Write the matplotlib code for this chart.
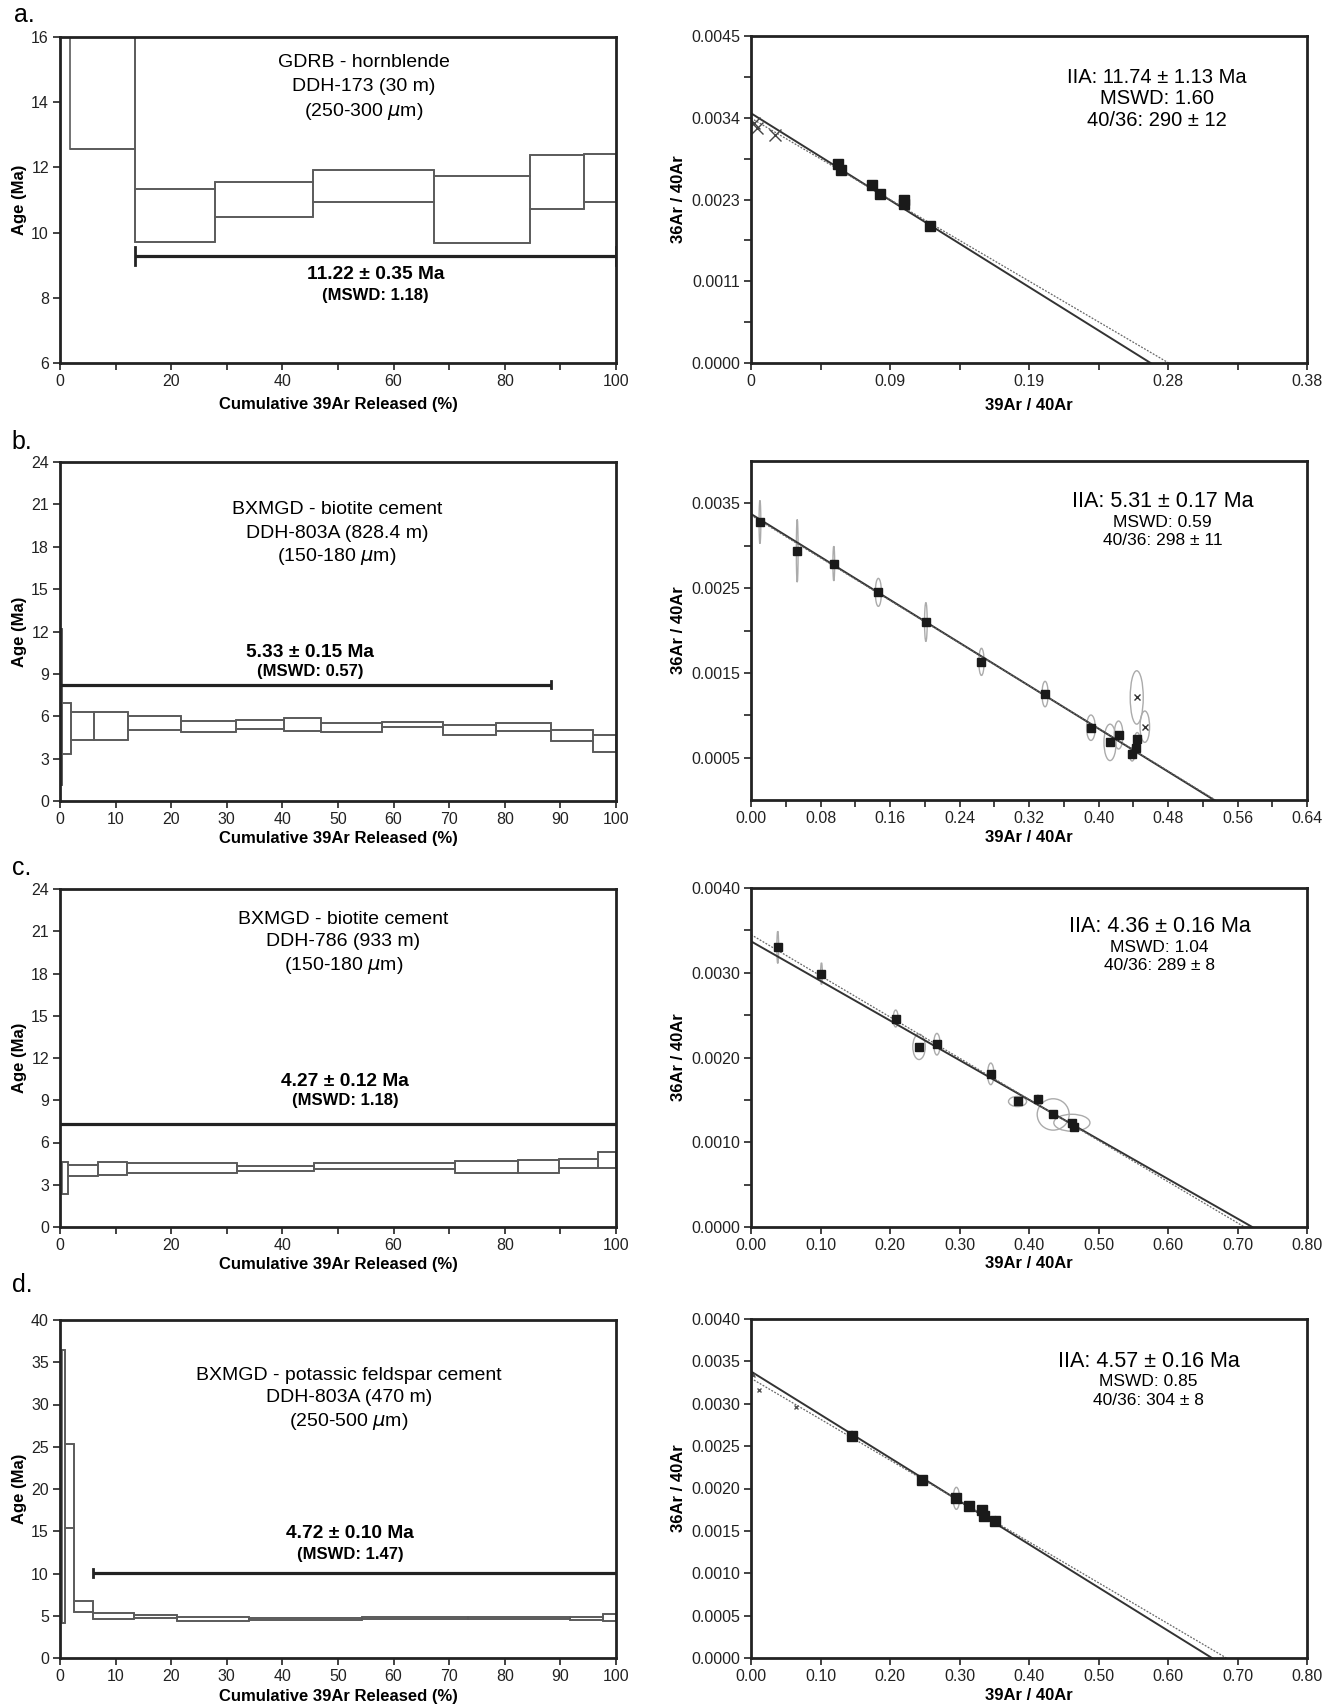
import numpy as np
import matplotlib
matplotlib.use("Agg")
import matplotlib.pyplot as plt
from matplotlib.patches import Ellipse

plt.rcParams['font.family'] = ['Liberation Sans', 'DejaVu Sans']

W, H = 1338, 1707

# ---------------- step-heating spectra: cumulative 39Ar (%) and age band (Ma) ----------------
a_bounds = [1.8, 13.45, 27.8, 45.5, 67.2, 84.6, 94.3, 100]
a_lo = [12.55, 9.72, 10.47, 10.95, 9.68, 10.72, 10.95]
a_hi = [17.0, 11.35, 11.55, 11.92, 11.73, 12.37, 12.42]
a_plateau = [13.45, 100, 9.28]

b_bounds = [0.0, 0.4, 2.05, 6.1, 12.2, 21.7, 31.6, 40.3, 46.9, 58.0, 68.9, 78.5, 88.3, 95.9, 100]
b_lo = [1.15, 3.35, 4.33, 4.33, 5.0, 4.92, 5.1, 4.97, 4.85, 5.22, 4.66, 4.96, 4.26, 3.47]
b_hi = [12.2, 6.96, 6.28, 6.28, 6.0, 5.64, 5.71, 5.9, 5.55, 5.62, 5.36, 5.53, 5.01, 4.68]
b_plateau = [0, 88.3, 8.22]

c_bounds = [0.4, 1.5, 6.8, 12.1, 31.8, 45.6, 71.1, 82.3, 89.7, 96.8, 100]
c_lo = [2.35, 3.6, 3.7, 3.8, 3.97, 4.11, 3.83, 3.83, 4.16, 4.16]
c_hi = [4.63, 4.4, 4.61, 4.52, 4.33, 4.52, 4.68, 4.78, 4.85, 5.34]
c_plateau = [0, 100, 7.32]

d_bounds = [0.35, 0.9, 2.5, 5.9, 13.3, 21.0, 34.0, 54.3, 73.4, 91.7, 97.6, 100]
d_lo = [4.2, 15.4, 5.45, 4.66, 4.74, 4.43, 4.5, 4.6, 4.65, 4.5, 4.35]
d_hi = [36.4, 25.3, 6.8, 5.34, 5.14, 4.8, 4.7, 4.8, 4.85, 4.9, 5.26]
d_plateau = [5.9, 100, 10.04]

# ---------------- isochrons: 39Ar/40Ar vs 36Ar/40Ar ----------------
ia_x = [0.0597, 0.0617, 0.0827, 0.0885, 0.1048, 0.1048, 0.1222]
ia_y = [0.00274, 0.00265, 0.00245, 0.00233, 0.00224, 0.00219, 0.00189]
ia_out_x = [0.0023, 0.0044, 0.0166]
ia_out_y = [0.0033, 0.00324, 0.00314]
ia_fit = [0.003437, 0.2731]      # y-intercept, x-intercept
ia_fit2 = [0.00337, 0.2855]

ib_x = [0.0103, 0.0532, 0.0953, 0.1466, 0.2013, 0.2653, 0.3385, 0.3913, 0.4133, 0.4231, 0.4446, 0.4426, 0.4387]
ib_y = [0.00328, 0.00294, 0.00279, 0.00245, 0.00210, 0.00163, 0.00125, 0.000853, 0.00068, 0.000767,
        0.000716, 0.00061, 0.00054]
ib_ew = [0.002, 0.002, 0.002, 0.007, 0.003, 0.006, 0.007, 0.010, 0.014, 0.010, 0.006, 0.006, 0.006]
ib_eh = [0.00051, 0.00074, 0.00041, 0.00033, 0.00046, 0.00032, 0.0003, 0.0003, 0.00043, 0.00033,
         0.00016, 0.00016, 0.00016]
ib_out_x = [0.444, 0.4533]
ib_out_y = [0.00121, 0.000865]
ib_out_ew = [0.015, 0.011]
ib_out_eh = [0.00063, 0.00037]
ib_fit = [0.003375, 0.533]
ib_fit2 = [0.00336, 0.5345]

ic_x = [0.0385, 0.1014, 0.2082, 0.2418, 0.2675, 0.345, 0.3835, 0.4128, 0.4348, 0.4617, 0.4641]
ic_y = [0.0033, 0.00299, 0.00246, 0.002126, 0.002157, 0.001807, 0.001481, 0.001505, 0.001328, 0.00123, 0.001183]
ic_ew = [0.0025, 0.0025, 0.007, 0.018, 0.009, 0.009, 0.026, 0.006, 0.046, 0.052, 0.01]
ic_eh = [0.00038, 0.000255, 0.0002, 0.0003, 0.000255, 0.000255, 0.00012, 0.0001, 0.00037, 0.0002, 0.0001]
ic_fit = [0.003371, 0.7212]
ic_fit2 = [0.00345, 0.710]

id_x = [0.1453, 0.2467, 0.2955, 0.3139, 0.3322, 0.3359, 0.3517]
id_y = [0.002625, 0.0021, 0.001884, 0.001793, 0.001745, 0.001679, 0.00162]
id_ew = [0.006, 0.006, 0.009, 0.005, 0.005, 0.005, 0.005]
id_eh = [0.0001, 0.0001, 0.00026, 0.0001, 0.0001, 0.0001, 0.0001]
id_out_x = [0.003, 0.0116, 0.0653]
id_out_y = [0.00334, 0.003157, 0.002967]
id_fit = [0.003381, 0.6632]
id_fit2 = [0.00330, 0.684]

fig = plt.figure(figsize=(W / 100, H / 100), dpi=100)
fig.patch.set_facecolor('white')


def add_px_axes(x0, x1, y0, y1):
    return fig.add_axes([x0 / W, 1 - y1 / H, (x1 - x0) / W, (y1 - y0) / H])


def style_axes(ax, h_px, xlab, ylab, xlab_off, ylab_x):
    for s in ax.spines.values():
        s.set_linewidth(2.0)
        s.set_color('#222222')
    ax.tick_params(which='both', direction='out', length=5, width=1.2, labelsize=11.5,
                   top=False, right=False, pad=3, colors='#222222')
    ax.set_xlabel(xlab, fontsize=12, fontweight='bold')
    ax.set_ylabel(ylab, fontsize=12, fontweight='bold')
    ax.xaxis.label.set_va('center')
    ax.yaxis.label.set_va('center')
    ax.xaxis.set_label_coords(0.5, -xlab_off / h_px)
    ax.yaxis.set_label_coords(ylab_x, 0.5)


def spectrum(ax, bounds, lo, hi, plateau, ylim, yticks, xticks):
    b = np.array(bounds)
    ax.bar(b[:-1], np.array(hi) - np.array(lo), width=np.diff(b), bottom=lo, align='edge',
           fill=False, edgecolor='#5a5a5a', linewidth=1.2)
    # upper and lower envelopes joined step to step
    ax.stairs(hi, b, baseline=None, color='#5a5a5a', linewidth=1.2)
    ax.stairs(lo, b, baseline=None, color='#5a5a5a', linewidth=1.2)
    ax.plot(plateau[:2], [plateau[2], plateau[2]], color='#222222', lw=2.3, solid_capstyle='butt')
    ax.set_xlim(0, 100)
    ax.set_ylim(*ylim)
    ax.set_yticks(yticks)
    ax.set_xticks(xticks)
    ax.set_xticks(np.arange(0, 101, 10), minor=True)


def isochron(ax, fit, fit2, xlim, ylim):
    ax.plot([0, fit[1]], [fit[0], 0], color='#333333', lw=1.4)
    ax.plot([0, fit2[1]], [fit2[0], 0], color='#666666', lw=0.9, ls=(0, (1.5, 1.2)))
    ax.set_xlim(*xlim)
    ax.set_ylim(*ylim)


def ellipses(ax, xs, ys, ws, hs):
    for x, y, w, h in zip(xs, ys, ws, hs):
        ax.add_patch(Ellipse((x, y), w, h, fill=False, edgecolor='#ababab', lw=1.0))


XL = 'Cumulative 39Ar Released (%)'
YL = 'Age (Ma)'
IXL = '39Ar / 40Ar'
IYL = '36Ar / 40Ar'
LX0, LX1 = 60, 616
RX0, RX1 = 751, 1307
TFS = 14        # sample description
AFS = 13.8      # plateau age
MFS = 12        # plateau MSWD

# ================= a =================
ax = add_px_axes(LX0, LX1, 37, 363)
spectrum(ax, a_bounds, a_lo, a_hi, a_plateau, (6, 16), np.arange(6, 17, 2), np.arange(0, 101, 20))
ax.plot([a_plateau[0]] * 2, [a_plateau[2] - 0.28, a_plateau[2] + 0.28], color='#222222', lw=2)
ax.plot([a_plateau[1]] * 2, [a_plateau[2] - 0.28, a_plateau[2] + 0.28], color='#222222', lw=2)
for t, y in zip(['GDRB - hornblende', 'DDH-173 (30 m)', '(250-300 $\\mu$m)'], [15.23, 14.48, 13.73]):
    ax.text(54.6, y, t, ha='center', va='center', fontsize=TFS)
ax.text(56.8, 8.71, '11.22 ± 0.35 Ma', ha='center', va='center', fontsize=AFS, fontweight='bold')
ax.text(56.8, 8.08, '(MSWD: 1.18)', ha='center', va='center', fontsize=MFS, fontweight='bold')
style_axes(ax, 326, XL, YL, 42, -0.073)

ax = add_px_axes(RX0, RX1, 36, 363)
isochron(ax, ia_fit, ia_fit2, (0, 0.38), (0, 0.0045))
ax.plot(ia_x, ia_y, 's', color='#1a1a1a', ms=7.5)
ax.plot(ia_out_x, ia_out_y, 'x', color='#444444', ms=8, mew=1.0)
ax.set_xticks([0, 0.095, 0.19, 0.285, 0.38], ['0', '0.09', '0.19', '0.28', '0.38'])
ax.set_xticks([0.0475, 0.1425, 0.2375, 0.3325], minor=True)
ax.set_yticks([0, 0.001125, 0.00225, 0.003375, 0.0045], ['0.0000', '0.0011', '0.0023', '0.0034', '0.0045'])
ax.set_yticks([0.0005625, 0.0016875, 0.0028125, 0.0039375], minor=True)
for t, y in zip(['IIA: 11.74 ± 1.13 Ma', 'MSWD: 1.60', '40/36: 290 ± 12'], [0.003932, 0.003634, 0.003336]):
    ax.text(0.73, y, t, transform=ax.get_yaxis_transform(), ha='center', va='center', fontsize=14.5)
style_axes(ax, 327, IXL, IYL, 42, -0.131)

# ================= b =================
ax = add_px_axes(LX0, LX1, 462, 801)
spectrum(ax, b_bounds, b_lo, b_hi, b_plateau, (0, 24), np.arange(0, 25, 3), np.arange(0, 101, 10))
ax.plot([b_plateau[1]] * 2, [b_plateau[2] - 0.25, b_plateau[2] + 0.25], color='#222222', lw=2)
for t, y in zip(['BXMGD - biotite cement', 'DDH-803A (828.4 m)', '(150-180 $\\mu$m)'], [20.65, 18.95, 17.3]):
    ax.text(49.8, y, t, ha='center', va='center', fontsize=TFS)
ax.text(45, 10.5, '5.33 ± 0.15 Ma', ha='center', va='center', fontsize=AFS, fontweight='bold')
ax.text(45, 9.2, '(MSWD: 0.57)', ha='center', va='center', fontsize=MFS, fontweight='bold')
style_axes(ax, 339, XL, YL, 37, -0.073)

ax = add_px_axes(RX0, RX1, 461, 800)
isochron(ax, ib_fit, ib_fit2, (0, 0.64), (0, 0.004))
ellipses(ax, ib_x, ib_y, ib_ew, ib_eh)
ellipses(ax, ib_out_x, ib_out_y, ib_out_ew, ib_out_eh)
ax.plot(ib_x, ib_y, 's', color='#1a1a1a', ms=6)
ax.plot(ib_out_x, ib_out_y, 'x', color='#333333', ms=4.5, mew=1.0)
ax.set_xticks(np.arange(0, 0.65, 0.08), ['%.2f' % v for v in np.arange(0, 0.65, 0.08)])
ax.set_xticks(np.arange(0.04, 0.64, 0.08), minor=True)
ax.set_yticks([0.0005, 0.0015, 0.0025, 0.0035], ['0.0005', '0.0015', '0.0025', '0.0035'])
ax.set_yticks([0.001, 0.002, 0.003], minor=True)
for t, y, fs in zip(['IIA: 5.31 ± 0.17 Ma', 'MSWD: 0.59', '40/36: 298 ± 11'],
                    [0.00352, 0.00327, 0.00306], [15.5, 12.5, 12.5]):
    ax.text(0.74, y, t, transform=ax.get_yaxis_transform(), ha='center', va='center', fontsize=fs)
style_axes(ax, 339, IXL, IYL, 38, -0.131)

# ================= c =================
ax = add_px_axes(LX0, LX1, 889, 1227)
spectrum(ax, c_bounds, c_lo, c_hi, c_plateau, (0, 24), np.arange(0, 25, 3), np.arange(0, 101, 20))
for t, y in zip(['BXMGD - biotite cement', 'DDH-786 (933 m)', '(150-180 $\\mu$m)'], [21.8, 20.25, 18.6]):
    ax.text(51, y, t, ha='center', va='center', fontsize=TFS)
ax.text(51.3, 10.3, '4.27 ± 0.12 Ma', ha='center', va='center', fontsize=AFS, fontweight='bold')
ax.text(51.3, 8.95, '(MSWD: 1.18)', ha='center', va='center', fontsize=MFS, fontweight='bold')
style_axes(ax, 338, XL, YL, 38, -0.073)

ax = add_px_axes(RX0, RX1, 888, 1227)
isochron(ax, ic_fit, ic_fit2, (0, 0.8), (0, 0.004))
ellipses(ax, ic_x, ic_y, ic_ew, ic_eh)
ax.plot(ic_x, ic_y, 's', color='#1a1a1a', ms=6)
ax.set_xticks(np.arange(0, 0.81, 0.1), ['%.2f' % v for v in np.arange(0, 0.81, 0.1)])
ax.set_yticks(np.arange(0, 0.0041, 0.001), ['%.4f' % v for v in np.arange(0, 0.0041, 0.001)])
ax.set_yticks(np.arange(0.0005, 0.004, 0.001), minor=True)
for t, y, fs in zip(['IIA: 4.36 ± 0.16 Ma', 'MSWD: 1.04', '40/36: 289 ± 8'],
                    [0.00355, 0.0033, 0.00309], [15.5, 12.5, 12.5]):
    ax.text(0.735, y, t, transform=ax.get_yaxis_transform(), ha='center', va='center', fontsize=fs)
style_axes(ax, 339, IXL, IYL, 37, -0.131)

# ================= d =================
ax = add_px_axes(LX0, LX1, 1320, 1658)
spectrum(ax, d_bounds, d_lo, d_hi, d_plateau, (0, 40), np.arange(0, 41, 5), np.arange(0, 101, 10))
ax.plot([d_plateau[0]] * 2, [d_plateau[2] - 0.45, d_plateau[2] + 0.45], color='#222222', lw=2)
for t, y in zip(['BXMGD - potassic feldspar cement', 'DDH-803A (470 m)', '(250-500 $\\mu$m)'],
                [33.4, 30.8, 28.0]):
    ax.text(52, y, t, ha='center', va='center', fontsize=TFS)
ax.text(52.2, 14.7, '4.72 ± 0.10 Ma', ha='center', va='center', fontsize=AFS, fontweight='bold')
ax.text(52.2, 12.2, '(MSWD: 1.47)', ha='center', va='center', fontsize=MFS, fontweight='bold')
style_axes(ax, 338, XL, YL, 38, -0.073)

ax = add_px_axes(RX0, RX1, 1319, 1658)
isochron(ax, id_fit, id_fit2, (0, 0.8), (0, 0.004))
ellipses(ax, id_x, id_y, id_ew, id_eh)
ax.plot(id_x, id_y, 's', color='#1a1a1a', ms=6.5)
ax.plot(id_out_x, id_out_y, 'x', color='#555555', ms=3.5, mew=1.0)
ax.set_xticks(np.arange(0, 0.81, 0.1), ['%.2f' % v for v in np.arange(0, 0.81, 0.1)])
ax.set_yticks(np.arange(0, 0.00401, 0.0005), ['%.4f' % v for v in np.arange(0, 0.00401, 0.0005)])
for t, y, fs in zip(['IIA: 4.57 ± 0.16 Ma', 'MSWD: 0.85', '40/36: 304 ± 8'],
                    [0.0035, 0.00326, 0.003038], [15.5, 12.5, 12.5]):
    ax.text(0.715, y, t, transform=ax.get_yaxis_transform(), ha='center', va='center', fontsize=fs)
style_axes(ax, 339, IXL, IYL, 37, -0.131)

# panel letters
for lab, (x, y) in zip(['a.', 'b.', 'c.', 'd.'], [(24, 15), (22, 442), (22, 868), (22, 1285)]):
    fig.text(x / W, 1 - y / H, lab, ha='center', va='center', fontsize=18)

fig.savefig('out.png', dpi=100, facecolor='white')
